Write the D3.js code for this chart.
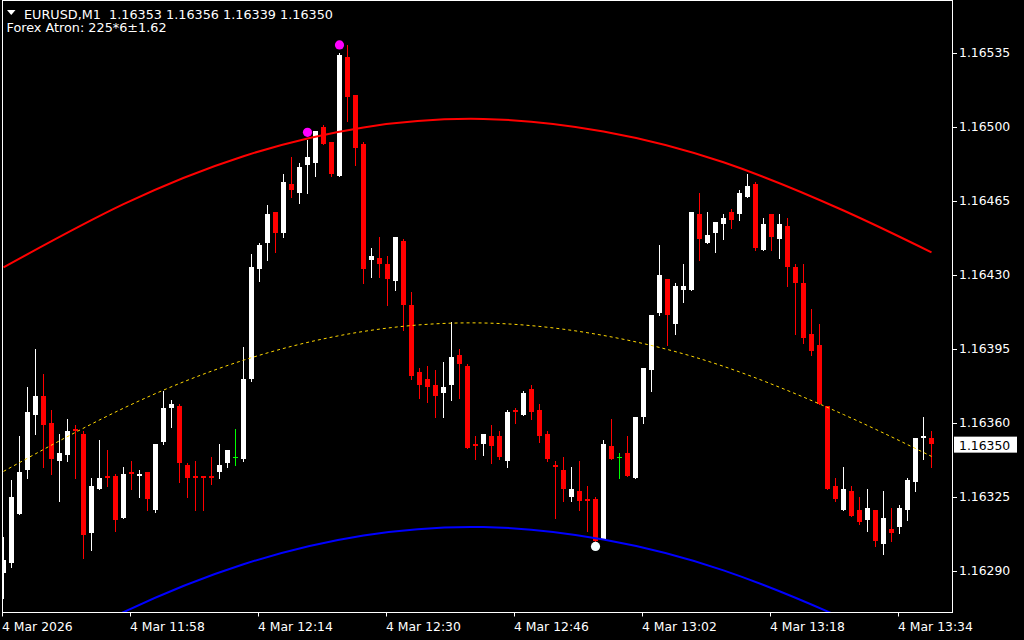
<!DOCTYPE html>
<html>
<head>
<meta charset="utf-8">
<script src="https://cdn.jsdelivr.net/npm/d3@7/dist/d3.min.js"></script>
<style>
  html, body { margin: 0; padding: 0; background: #000; }
  svg { display: block; font-family: "DejaVu Sans", sans-serif; }
</style>
</head>
<body>
<div id="chart"></div>
<script>
/* EURUSD M1 candles, 11:42 .. 13:38 */
const opens = [
  1.16289, 1.16294, 1.16317, 1.16338, 1.16364, 1.16373, 1.16360, 1.16342, 1.16345, 1.16357,
  1.16355, 1.16308, 1.16329, 1.16335, 1.16335, 1.16315, 1.16337, 1.16335, 1.16337, 1.16319,
  1.16351, 1.16367, 1.16368, 1.16340, 1.16335, 1.16335, 1.16335, 1.16337, 1.16341, 1.16344,
  1.16343, 1.16381, 1.16433, 1.16445, 1.16460, 1.16450, 1.16473, 1.16469, 1.16482, 1.16483,
  1.16500, 1.16493, 1.16477, 1.16533, 1.16515, 1.16492, 1.16437, 1.16438, 1.16435, 1.16427,
  1.16446, 1.16416, 1.16384, 1.16381, 1.16378, 1.16374, 1.16378, 1.16392, 1.16387, 1.16350,
  1.16350, 1.16354, 1.16354, 1.16342, 1.16366, 1.16364, 1.16376, 1.16366, 1.16355, 1.16340,
  1.16338, 1.16325, 1.16328, 1.16324, 1.16324, 1.16305, 1.16349, 1.16344, 1.16346, 1.16334,
  1.16363, 1.16385, 1.16412, 1.16428, 1.16407, 1.16423, 1.16423, 1.16459, 1.16445, 1.16450,
  1.16454, 1.16460, 1.16459, 1.16467, 1.16473, 1.16442, 1.16459, 1.16447, 1.16453, 1.16434,
  1.16426, 1.16402, 1.16397, 1.16368, 1.16330, 1.16319, 1.16328, 1.16319, 1.16314, 1.16319,
  1.16303, 1.16310, 1.16311, 1.16319, 1.16332, 1.16353, 1.16353];
const highs = [
  1.16306, 1.16333, 1.16354, 1.16377, 1.16395, 1.16383, 1.16366, 1.16355, 1.16362, 1.16359,
  1.16356, 1.16334, 1.16352, 1.16347, 1.16336, 1.16339, 1.16342, 1.16338, 1.16337, 1.16350,
  1.16375, 1.16371, 1.16369, 1.16341, 1.16342, 1.16335, 1.16344, 1.16350, 1.16347, 1.16357,
  1.16396, 1.16440, 1.16445, 1.16463, 1.16460, 1.16478, 1.16486, 1.16483, 1.16494, 1.16498,
  1.16501, 1.16493, 1.16535, 1.16539, 1.16515, 1.16493, 1.16443, 1.16448, 1.16439, 1.16448,
  1.16447, 1.16422, 1.16386, 1.16387, 1.16385, 1.16389, 1.16408, 1.16395, 1.16388, 1.16354,
  1.16355, 1.16359, 1.16356, 1.16366, 1.16367, 1.16375, 1.16378, 1.16369, 1.16356, 1.16342,
  1.16344, 1.16339, 1.16342, 1.16330, 1.16325, 1.16352, 1.16362, 1.16346, 1.16354, 1.16363,
  1.16386, 1.16411, 1.16444, 1.16428, 1.16426, 1.16435, 1.16460, 1.16469, 1.16460, 1.16455,
  1.16459, 1.16461, 1.16470, 1.16478, 1.16474, 1.16457, 1.16459, 1.16459, 1.16457, 1.16435,
  1.16435, 1.16414, 1.16407, 1.16368, 1.16334, 1.16339, 1.16330, 1.16325, 1.16329, 1.16319,
  1.16328, 1.16320, 1.16321, 1.16334, 1.16353, 1.16363, 1.16356];
const lows = [
  1.16277, 1.16292, 1.16317, 1.16334, 1.16355, 1.16339, 1.16336, 1.16323, 1.16342, 1.16334,
  1.16296, 1.16300, 1.16329, 1.16330, 1.16309, 1.16315, 1.16329, 1.16325, 1.16319, 1.16318,
  1.16350, 1.16358, 1.16332, 1.16325, 1.16319, 1.16319, 1.16331, 1.16334, 1.16339, 1.16340,
  1.16342, 1.16380, 1.16427, 1.16437, 1.16441, 1.16448, 1.16467, 1.16464, 1.16469, 1.16477,
  1.16492, 1.16477, 1.16477, 1.16503, 1.16482, 1.16426, 1.16429, 1.16429, 1.16416, 1.16423,
  1.16404, 1.16381, 1.16372, 1.16370, 1.16363, 1.16363, 1.16371, 1.16372, 1.16348, 1.16343,
  1.16345, 1.16341, 1.16343, 1.16339, 1.16360, 1.16364, 1.16362, 1.16351, 1.16342, 1.16315,
  1.16323, 1.16323, 1.16319, 1.16309, 1.16303, 1.16305, 1.16343, 1.16334, 1.16335, 1.16334,
  1.16360, 1.16375, 1.16411, 1.16397, 1.16402, 1.16417, 1.16423, 1.16437, 1.16445, 1.16441,
  1.16447, 1.16452, 1.16456, 1.16467, 1.16442, 1.16442, 1.16442, 1.16438, 1.16425, 1.16402,
  1.16398, 1.16392, 1.16369, 1.16329, 1.16323, 1.16319, 1.16316, 1.16312, 1.16309, 1.16302,
  1.16298, 1.16304, 1.16308, 1.16314, 1.16328, 1.16343, 1.16339];
const closes = [
  1.16295, 1.16325, 1.16337, 1.16365, 1.16373, 1.16359, 1.16343, 1.16346, 1.16356, 1.16356,
  1.16307, 1.16330, 1.16334, 1.16334, 1.16314, 1.16336, 1.16336, 1.16336, 1.16324, 1.16350,
  1.16367, 1.16369, 1.16341, 1.16334, 1.16334, 1.16334, 1.16334, 1.16340, 1.16347, 1.16344,
  1.16381, 1.16434, 1.16444, 1.16459, 1.16450, 1.16474, 1.16470, 1.16481, 1.16486, 1.16498,
  1.16492, 1.16478, 1.16534, 1.16514, 1.16490, 1.16433, 1.16439, 1.16435, 1.16428, 1.16448,
  1.16416, 1.16382, 1.16378, 1.16377, 1.16373, 1.16377, 1.16391, 1.16388, 1.16348, 1.16349,
  1.16355, 1.16349, 1.16344, 1.16365, 1.16365, 1.16374, 1.16365, 1.16354, 1.16343, 1.16339,
  1.16329, 1.16329, 1.16323, 1.16323, 1.16304, 1.16350, 1.16343, 1.16344, 1.16335, 1.16363,
  1.16386, 1.16411, 1.16430, 1.16411, 1.16425, 1.16425, 1.16460, 1.16447, 1.16449, 1.16455,
  1.16457, 1.16456, 1.16469, 1.16472, 1.16443, 1.16454, 1.16448, 1.16454, 1.16434, 1.16426,
  1.16400, 1.16394, 1.16369, 1.16329, 1.16324, 1.16329, 1.16316, 1.16313, 1.16320, 1.16304,
  1.16315, 1.16308, 1.16320, 1.16333, 1.16353, 1.16354, 1.16350];

/* Forex Atron channel, sampled at bar indexes */
const bandBars = [0, 15, 30, 45, 60, 75, 90, 105, 116];
const bandMid = [1.163371, 1.163670, 1.163897, 1.164033, 1.164073, 1.164014, 1.163868, 1.163640, 1.163442];
const bandUpper = [1.164336, 1.164635, 1.164862, 1.164998, 1.165038, 1.164979, 1.164833, 1.164605, 1.164407];
const bandLower = [1.162406, 1.162705, 1.162932, 1.163068, 1.163108, 1.163049, 1.162903, 1.162675, 1.162477];

/* signal dots */
const sellBars = [38, 42];
const sellPrices = [1.164975, 1.165388];
const buyBars = [74];
const buyPrices = [1.163016];

/* axis ticks */
const priceTicks = [1.16290, 1.16325, 1.16360, 1.16395, 1.16430, 1.16465, 1.16500, 1.16535];
const timeTickBars = [0, 16, 32, 48, 64, 80, 96, 112];
const timeLabels = ['4 Mar 2026', '4 Mar 11:58', '4 Mar 12:14', '4 Mar 12:30',
  '4 Mar 12:46', '4 Mar 13:02', '4 Mar 13:18', '4 Mar 13:34'];

const W = 1024;
const H = 640;
const plot = { left: 2.5, top: 0.5, right: 952.5, bottom: 612.5 };
const fontSize = '12.4px';

const svg = d3.select('#chart').append('svg')
  .attr('width', W)
  .attr('height', H);

svg.append('rect').attr('width', W).attr('height', H).attr('fill', '#000');

const x = d3.scaleLinear().domain([0, opens.length - 1]).range([3.5, 3.5 + 8 * (opens.length - 1)]);
const y = d3.scaleLinear().domain([1.16290, 1.16535]).range([571, 53]);
const py = v => Math.round(y(v));

svg.append('clipPath').attr('id', 'plotClip')
  .append('rect')
  .attr('x', plot.left + 0.5)
  .attr('y', plot.top + 0.5)
  .attr('width', plot.right - plot.left - 1)
  .attr('height', plot.bottom - plot.top - 1);

const candles = opens.map((o, i) => ({
  i, o, h: highs[i], l: lows[i], c: closes[i],
}));

const candleColor = d => {
  if (d.c > d.o) return '#ffffff';
  if (d.c < d.o) return '#ff0000';
  return '#00ff00';
};

/**
 * Candles: wick, then body (doji drawn as a short bar)
 */
const gCandles = svg.append('g').attr('clip-path', 'url(#plotClip)');

gCandles.selectAll('.wick')
  .data(candles)
  .enter()
  .append('line')
  .attr('class', 'wick')
  .attr('x1', d => x(d.i))
  .attr('x2', d => x(d.i))
  .attr('y1', d => py(d.h))
  .attr('y2', d => py(d.l) + 1)
  .attr('stroke', candleColor)
  .attr('stroke-width', 1);

gCandles.selectAll('.body')
  .data(candles)
  .enter()
  .append('rect')
  .attr('class', 'body')
  .attr('x', d => x(d.i) - 2.5)
  .attr('width', 5)
  .attr('y', d => py(Math.max(d.o, d.c)))
  .attr('height', d => Math.max(1, py(Math.min(d.o, d.c)) - py(Math.max(d.o, d.c))))
  .attr('fill', candleColor);

/**
 * Channel lines
 */
const bandLine = values => d3.line()
  .x((d, k) => x(bandBars[k]))
  .y(d => y(d))
  .curve(d3.curveNatural)(values);

const gBand = svg.append('g').attr('clip-path', 'url(#plotClip)');

gBand.append('path')
  .attr('d', bandLine(bandUpper))
  .attr('fill', 'none')
  .attr('stroke', '#ff0000')
  .attr('stroke-width', 2);

gBand.append('path')
  .attr('d', bandLine(bandMid))
  .attr('fill', 'none')
  .attr('stroke', '#ffd700')
  .attr('stroke-width', 1)
  .attr('stroke-dasharray', '3,3');

gBand.append('path')
  .attr('d', bandLine(bandLower))
  .attr('fill', 'none')
  .attr('stroke', '#0000ff')
  .attr('stroke-width', 2);

/**
 * Signal dots
 */
gBand.selectAll('.sell')
  .data(sellBars)
  .enter()
  .append('circle')
  .attr('class', 'sell')
  .attr('cx', d => x(d))
  .attr('cy', (d, k) => y(sellPrices[k]))
  .attr('r', 4.6)
  .attr('fill', '#ff00ff');

gBand.selectAll('.buy')
  .data(buyBars)
  .enter()
  .append('circle')
  .attr('class', 'buy')
  .attr('cx', d => x(d))
  .attr('cy', (d, k) => y(buyPrices[k]))
  .attr('r', 4.6)
  .attr('fill', '#f4ffff');

/* frame */
svg.append('rect')
  .attr('x', plot.left)
  .attr('y', plot.top)
  .attr('width', plot.right - plot.left)
  .attr('height', plot.bottom - plot.top)
  .attr('fill', 'none')
  .attr('stroke', '#ffffff')
  .attr('stroke-width', 1);

/* price axis */
const yAxis = svg.append('g')
  .attr('transform', `translate(${plot.right + 0.5},0)`)
  .call(d3.axisRight(y)
    .tickValues(priceTicks)
    .tickFormat(d3.format('.5f'))
    .tickSize(4)
    .tickPadding(2));
yAxis.select('.domain').remove();
yAxis.selectAll('line').attr('stroke', '#ffffff');
yAxis.selectAll('text')
  .attr('fill', '#ffffff')
  .style('font-size', fontSize)
  .style('font-family', '"DejaVu Sans", sans-serif');

/* time axis */
const xAxis = svg.append('g')
  .attr('transform', `translate(-1.5,${plot.bottom})`)
  .call(d3.axisBottom(x)
    .tickValues(timeTickBars)
    .tickFormat((d, k) => timeLabels[k])
    .tickSize(4));
xAxis.select('.domain').remove();
xAxis.selectAll('line').attr('stroke', '#ffffff');
xAxis.selectAll('text')
  .attr('fill', '#ffffff')
  .attr('x', -0.5)
  .attr('y', 18.5)
  .attr('dy', null)
  .style('text-anchor', 'start')
  .style('font-size', fontSize)
  .style('font-family', '"DejaVu Sans", sans-serif');

/* last price marker */
const last = closes.length - 1;
const fmt = d3.format('.5f');
const yLast = y(closes[last]);
svg.append('rect')
  .attr('x', 954)
  .attr('y', yLast - 7.5)
  .attr('width', 63)
  .attr('height', 16)
  .attr('fill', '#ffffff');
svg.append('text')
  .attr('x', 959)
  .attr('y', yLast + 6)
  .attr('fill', '#000000')
  .style('font-size', fontSize)
  .text(fmt(closes[last]));

/* header */
svg.append('path')
  .attr('d', 'M7,10L15.5,10L11.25,15Z')
  .attr('fill', '#ffffff');
svg.append('text')
  .attr('x', 24)
  .attr('y', 18.5)
  .attr('fill', '#ffffff')
  .attr('xml:space', 'preserve')
  .style('white-space', 'pre')
  .style('font-size', '12.8px')
  .text(`EURUSD,M1  ${fmt(opens[last])} ${fmt(highs[last])} ${fmt(lows[last])} ${fmt(closes[last])}`);
svg.append('text')
  .attr('x', 6.5)
  .attr('y', 31.5)
  .attr('fill', '#ffffff')
  .style('font-size', '12.8px')
  .text('Forex Atron: 225*6\u00b11.62');
</script>
</body>
</html>
